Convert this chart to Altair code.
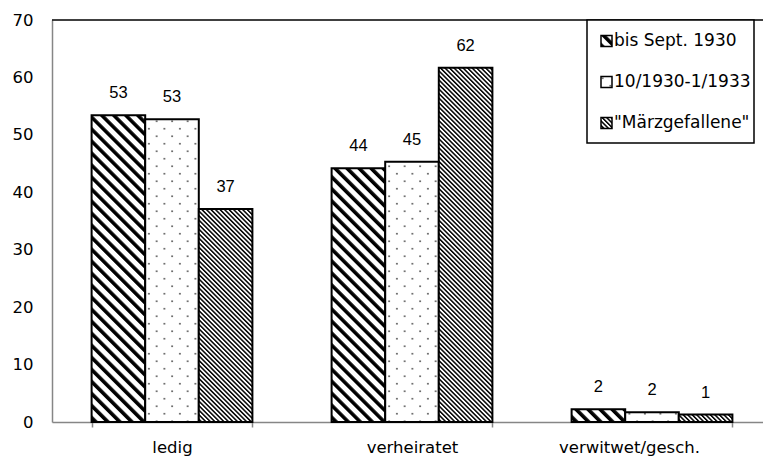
import altair as alt
import pandas as pd
import jinja2

# ---------------- data ----------------
categories = ["ledig", "verheiratet", "verwitwet/gesch."]
periods = ["bis Sept. 1930", "10/1930-1/1933", "\"Märzgefallene\""]
bis_sept_1930 = [53.4, 44.2, 2.2]
okt1930_jan1933 = [52.7, 45.3, 1.7]
maerzgefallene = [37.1, 61.7, 1.3]
y_ticks = [0, 10, 20, 30, 40, 50, 60, 70]

rows = []
for series, vals in zip(periods, [bis_sept_1930, okt1930_jan1933, maerzgefallene]):
    for cat, val in zip(categories, vals):
        rows.append({"Familienstand": cat, "Zeitraum": series, "Anteil": val})
df = pd.DataFrame(rows)

# ---------------- styles ----------------
FONT = "DejaVu Sans"
VALUE_FONT = "Liberation Sans"
AXIS_GRAY = "#868686"
pattern_fills = ["url(#pat-wide)", "url(#pat-dots)", "url(#pat-fine)"]

PATTERN_DEFS = """
<pattern id="pat-wide" patternUnits="userSpaceOnUse" width="8.5" height="8.5" patternTransform="rotate(-45)">
  <rect x="0" y="0" width="8.5" height="8.5" fill="white"/>
  <rect x="0" y="0" width="3.6" height="8.5" fill="black"/>
</pattern>
<pattern id="pat-fine" patternUnits="userSpaceOnUse" width="3.2" height="3.2" patternTransform="rotate(-45)">
  <rect x="0" y="0" width="3.2" height="3.2" fill="white"/>
  <rect x="0" y="0" width="1.5" height="3.2" fill="black"/>
</pattern>
<pattern id="pat-dots" patternUnits="userSpaceOnUse" width="15.5" height="15">
  <rect x="0" y="0" width="15.5" height="15" fill="white"/>
  <circle cx="3.9" cy="3.75" r="0.9" fill="#555"/>
  <circle cx="11.65" cy="11.25" r="0.9" fill="#555"/>
</pattern>
"""

TEMPLATE = jinja2.Template("""<!DOCTYPE html>
<html>
<head>
<meta charset="utf-8">
<style>
html, body { overflow: hidden; }
body { margin: 8px 0 0 8px; }
#{{ output_div }}.vega-embed { display: flex; }
</style>
<script type="text/javascript" src="{{ base_url }}/vega@{{ vega_version }}"></script>
<script type="text/javascript" src="{{ base_url }}/vega-lite@{{ vegalite_version }}"></script>
<script type="text/javascript" src="{{ base_url }}/vega-embed@{{ vegaembed_version }}"></script>
</head>
<body>
<svg width="0" height="0" style="position:absolute;left:0;top:0"><defs>""" + PATTERN_DEFS + """</defs></svg>
<div id="{{ output_div }}"></div>
<script type="text/javascript">
(function(spec, embedOpt){
  var outputDiv = document.getElementById("{{ output_div }}");
  vegaEmbed(outputDiv, spec, embedOpt).catch(function(err){ outputDiv.innerHTML = '<pre>' + err + '</pre>'; });
})({{ spec }}, {{ embed_options }});
</script>
</body>
</html>
""")

# legend symbol: 11px square plus two invisible points that set each entry's height
legend_symbol = "M-0.319,-0.319H0.319V0.319H-0.319Z M0,-0.81L0,-0.81 M0,0.81L0,0.81"

x_enc = alt.X(
    "Familienstand:N", sort=categories, title=None,
    scale=alt.Scale(range=[0, 720], paddingInner=0.33, paddingOuter=0.165),
    axis=alt.Axis(
        labelAngle=0, labelFont=FONT, labelFontSize=16.5, labelColor="black",
        domainColor=AXIS_GRAY, domainWidth=1.5, tickColor=AXIS_GRAY, tickWidth=1.5,
        tickSize=5, tickBand="extent", labelPadding=12,
        labelOffset={"condition": {"test": "datum.value === 'verwitwet/gesch.'", "value": -23}, "value": 0},
    ),
)
y_enc = alt.Y(
    "Anteil:Q", title=None,
    scale=alt.Scale(domain=[y_ticks[0], y_ticks[-1]], nice=False),
    axis=alt.Axis(
        values=y_ticks, grid=False, ticks=False, tickSize=0, labelPadding=19,
        labelFont=FONT, labelFontSize=16.5, labelColor="black",
        domainColor=AXIS_GRAY, domainWidth=1.5,
    ),
)
xoff = alt.XOffset("Zeitraum:N", sort=periods, scale=alt.Scale(paddingInner=0, paddingOuter=0))

bars = alt.Chart(df).mark_bar(stroke="black", strokeWidth=2).encode(
    x=x_enc, y=y_enc, xOffset=xoff,
    fill=alt.Fill(
        "Zeitraum:N", sort=periods,
        scale=alt.Scale(domain=periods, range=pattern_fills),
        legend=alt.Legend(
            title=None, orient="none", legendX=535, legendY=0, direction="vertical",
            strokeColor="black", fillColor="white", padding=3, rowPadding=6,
            symbolType=legend_symbol, symbolSize=1190.25, symbolStrokeColor="black",
            symbolStrokeWidth=1.5, symbolOffset=alt.ExprRef("-1.5"),
            labelOffset=alt.ExprRef("-10.5"),
            labelFont=FONT, labelFontSize=17, labelColor="black", labelLimit=300,
        ),
    ),
)

labels = alt.Chart(df).mark_text(
    font=VALUE_FONT, fontSize=16.5, baseline="alphabetic", dy=-17, color="black"
).encode(
    x=x_enc, y=y_enc, xOffset=xoff,
    text=alt.Text("Anteil:Q", format=".0f"),
)

top_line = alt.Chart(pd.DataFrame({"grenze": [y_ticks[-1]]})).mark_rule(
    color="black", strokeWidth=1.5
).encode(y=alt.datum(y_ticks[-1]))

chart = alt.layer(bars, labels, top_line).properties(
    width=711, height=402,
    autosize=alt.AutoSizeParams(type="none"),
    padding={"left": 44, "top": 12, "right": 0, "bottom": 37},
).configure_view(strokeWidth=0).configure_legend(strokeWidth=1.5)

chart.save("out.html", embed_options={"renderer": "svg", "actions": False}, template=TEMPLATE)
